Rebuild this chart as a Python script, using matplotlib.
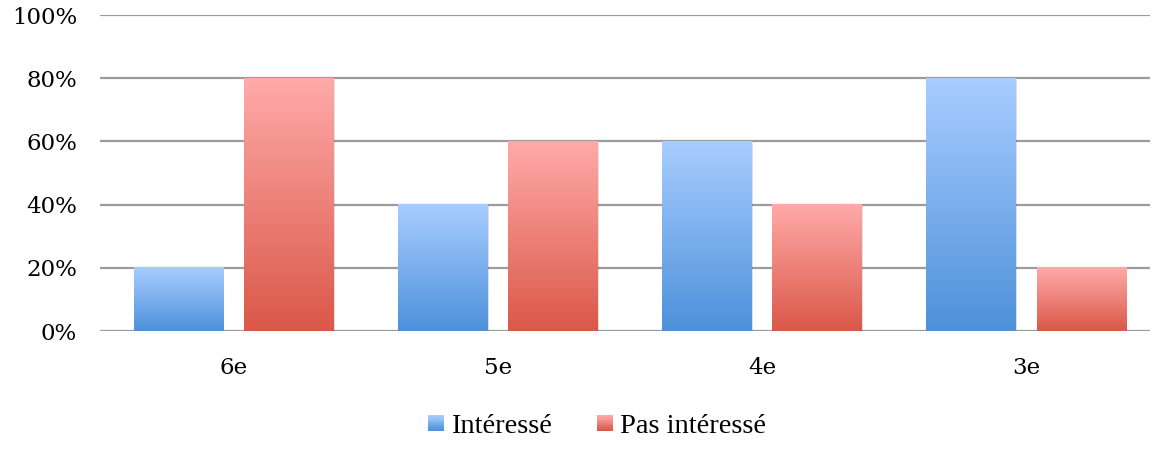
import numpy as np
import matplotlib
matplotlib.use("Agg")
import matplotlib.pyplot as plt
from matplotlib.colors import LinearSegmentedColormap
from matplotlib.legend_handler import HandlerBase
from matplotlib.patches import Rectangle

categories = ["6e", "5e", "4e", "3e"]
interesse = [20, 40, 60, 80]
pas_interesse = [80, 60, 40, 20]
series_names = ["Intéressé", "Pas intéressé"]
yticks = [0, 20, 40, 60, 80, 100]

blue_top, blue_bot = "#A8CDFF", "#4D91DA"
red_top, red_bot = "#FFAAA9", "#DA5848"

plt.rcParams['font.family'] = ['DejaVu Serif']

fig = plt.figure(figsize=(11.6, 4.51), dpi=100)
ax = fig.add_axes([100/1160, 1 - 331/451, 1050/1160, (331-15)/451])

x = np.arange(len(categories))
w = 0.337
gap = 0.08
off = (w + gap) / 2

def grad_bars(xpos, vals, top, bot):
    bars = ax.bar(xpos, vals, width=w, color="none", zorder=3)
    cmap = LinearSegmentedColormap.from_list("g", [bot, top])
    grad = np.linspace(0, 1, 256).reshape(-1, 1)
    for b in bars:
        x0, y0 = b.get_x(), b.get_y()
        bw, bh = b.get_width(), b.get_height()
        ax.add_patch(Rectangle((x0 + 0.006, y0 - 0.6), bw, bh, facecolor="#000000",
                               alpha=0.12, edgecolor="none", zorder=2.5))
        ax.imshow(grad, extent=(x0, x0 + bw, y0, y0 + bh), origin="lower",
                  cmap=cmap, aspect="auto", zorder=3, interpolation="bilinear")
    return bars

grad_bars(x - off, interesse, blue_top, blue_bot)
grad_bars(x + off, pas_interesse, red_top, red_bot)

ax.set_xlim(-0.505, 3.469)
ax.set_ylim(0, 100)
ax.set_yticks(yticks)
ax.set_yticklabels([f"{v}%" for v in yticks], fontsize=16.5)
ax.set_xticks(x)
ax.set_xticklabels(categories, fontsize=16.5)
ax.tick_params(axis="both", length=0)
ax.tick_params(axis="y", pad=16.5)
ax.tick_params(axis="x", pad=19)
for s in ax.spines.values():
    s.set_visible(False)
ax.yaxis.grid(True, color="#9B9B9B", linewidth=1.6, zorder=0)
ax.set_axisbelow(True)

class GradHandler(HandlerBase):
    def __init__(self, top, bot):
        super().__init__()
        self.top, self.bot = top, bot
    def create_artists(self, legend, orig_handle, xdescent, ydescent, width, height, fontsize, trans):
        cmap = LinearSegmentedColormap.from_list("g", [self.bot, self.top])
        n = 14
        s = width
        x0 = -xdescent
        y0 = -ydescent + (height - s) / 2
        arts = []
        for i in range(n):
            r = Rectangle((x0, y0 + s * i / n), s, s / n + 0.2, facecolor=cmap(i / (n - 1)),
                          edgecolor="none", transform=trans)
            arts.append(r)
        return arts

h1 = Rectangle((0, 0), 1, 1)
h2 = Rectangle((0, 0), 1, 1)
fig.legend([h1, h2], series_names, loc="center", bbox_to_anchor=(597/1160, 1 - 426/451),
           ncol=2, frameon=False, prop={'family': ['Liberation Serif'], 'size': 20.5},
           handlelength=0.55, handleheight=0.7,
           handletextpad=0.25, columnspacing=1.6,
           handler_map={h1: GradHandler(blue_top, blue_bot), h2: GradHandler(red_top, red_bot)})

fig.savefig("out.png", dpi=100)
